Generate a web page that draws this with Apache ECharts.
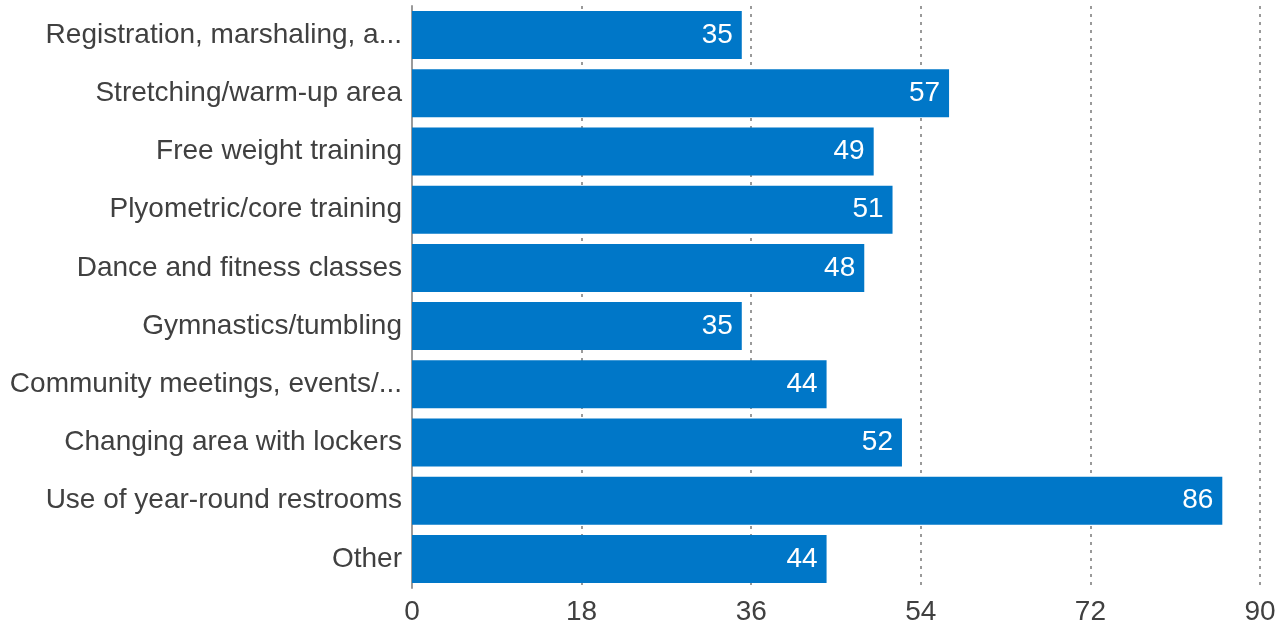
<!DOCTYPE html>
<html>
<head>
<meta charset="utf-8">
<script src="https://cdn.jsdelivr.net/npm/echarts@6/dist/echarts.min.js"></script>
<style>
  html, body { margin: 0; padding: 0; background: #fff; }
  #chart { width: 1282px; height: 628px; }
</style>
</head>
<body>
<div id="chart"></div>
<script>
// Facility uses, listed top to bottom
const categories = [
  'Registration, marshaling, a...',
  'Stretching/warm-up area',
  'Free weight training',
  'Plyometric/core training',
  'Dance and fitness classes',
  'Gymnastics/tumbling',
  'Community meetings, events/...',
  'Changing area with lockers',
  'Use of year-round restrooms',
  'Other'
];
const counts = [35, 57, 49, 51, 48, 35, 44, 52, 86, 44];
const axisMin = 0;
const axisMax = 90;
const axisStep = 18;

const chart = echarts.init(document.getElementById('chart'));
chart.setOption({
  animation: false,
  grid: { left: 412, right: 22, top: 6, bottom: 40 },
  xAxis: {
    type: 'value',
    min: axisMin,
    max: axisMax,
    interval: axisStep,
    axisLine: { show: false },
    axisTick: { show: false },
    axisLabel: {
      color: '#404040',
      fontFamily: 'Liberation Sans, Arial, sans-serif',
      fontSize: 28,
      margin: 10
    },
    splitLine: {
      show: true,
      lineStyle: { color: '#9a9a9a', width: 2, type: [3, 5] }
    }
  },
  yAxis: {
    type: 'category',
    data: categories,
    inverse: true,
    axisLine: { show: true, lineStyle: { color: '#9a9a9a', width: 2 } },
    axisTick: { show: false },
    axisLabel: {
      color: '#404040',
      fontFamily: 'Liberation Sans, Arial, sans-serif',
      fontSize: 28,
      margin: 10
    }
  },
  series: [{
    type: 'bar',
    data: counts,
    barCategoryGap: '17.5%',
    itemStyle: { color: '#0077c8' },
    label: {
      show: true,
      position: 'insideRight',
      color: '#ffffff',
      fontFamily: 'Liberation Sans, Arial, sans-serif',
      fontSize: 28,
      distance: 9
    }
  }]
});
</script>
</body>
</html>
